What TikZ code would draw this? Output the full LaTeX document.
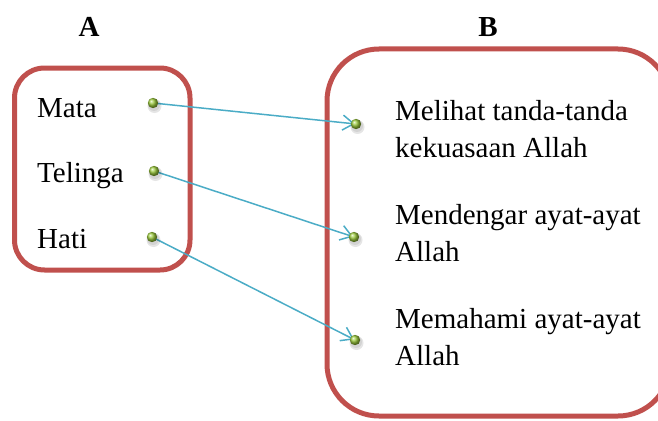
\documentclass[tikz,border=0pt]{standalone}
\usepackage{fontspec}
\setmainfont{Liberation Serif}
\usetikzlibrary{arrows.meta}
\definecolor{boxred}{HTML}{C0504D}
\definecolor{linkblue}{HTML}{4BACC6}
\definecolor{dotgreen}{HTML}{9CCB3C}
\tikzset{
  frame/.style={draw=boxred, line width=5pt},
  label/.style={inner sep=0pt, anchor=base west, align=left,
    font=\fontsize{29}{37.5}\selectfont},
  head/.style={inner sep=0pt, anchor=base, font=\fontsize{29}{34}\selectfont\bfseries},
  link/.style={draw=linkblue, line width=1.5pt,
    -{Straight Barb[length=11pt,width=15pt,line width=1.5pt]}, shorten >=1pt},
  pin/.pic={
    \fill[black, opacity=0.10] (1.5,3) circle (7);
    \fill[black, opacity=0.08] (1,2) circle (6);
    \shade[ball color=dotgreen] (0,0) circle (5.2);
  }
}
\begin{document}
\begin{tikzpicture}[x=1pt, y=-1pt]
  \useasboundingbox (0,0) rectangle (658,420);
  \clip (0,0) rectangle (658,420);

  % column headings
  \node[head] (ha) at (89,37) {A};
  \node[head] (hb) at (488,37) {B};

  % frames
  \draw[frame, rounded corners=30pt] (14.5,68) rectangle (190,270);
  \draw[frame, rounded corners=52pt] (327,49) rectangle (670,416);

  % left column
  \node[label] (mata) at (37,117) {Mata};
  \node[label] (telinga) at (37,182) {Telinga};
  \node[label] (hati) at (37,248) {Hati};

  % right column (anchored at the baseline of the last line)
  \node[label] (r1) at (395,157.5) {Melihat tanda-tanda\\kekuasaan Allah};
  \node[label] (r2) at (395,261.5) {Mendengar ayat-ayat\\Allah};
  \node[label] (r3) at (395,365.5) {Memahami ayat-ayat\\Allah};

  % anchor points of the connectors
  \coordinate (p1) at (153,103);
  \coordinate (p2) at (154,171);
  \coordinate (p3) at (152,237);
  \coordinate (q1) at (356,124);
  \coordinate (q2) at (354,237);
  \coordinate (q3) at (355,340);

  % connectors
  \draw[link] (p1) -- (q1);
  \draw[link] (p2) -- (q2);
  \draw[link] (p3) -- (q3);

  % green pins
  \foreach \p in {p1,p2,p3,q1,q2,q3} \pic at (\p) {pin};
\end{tikzpicture}
\end{document}
